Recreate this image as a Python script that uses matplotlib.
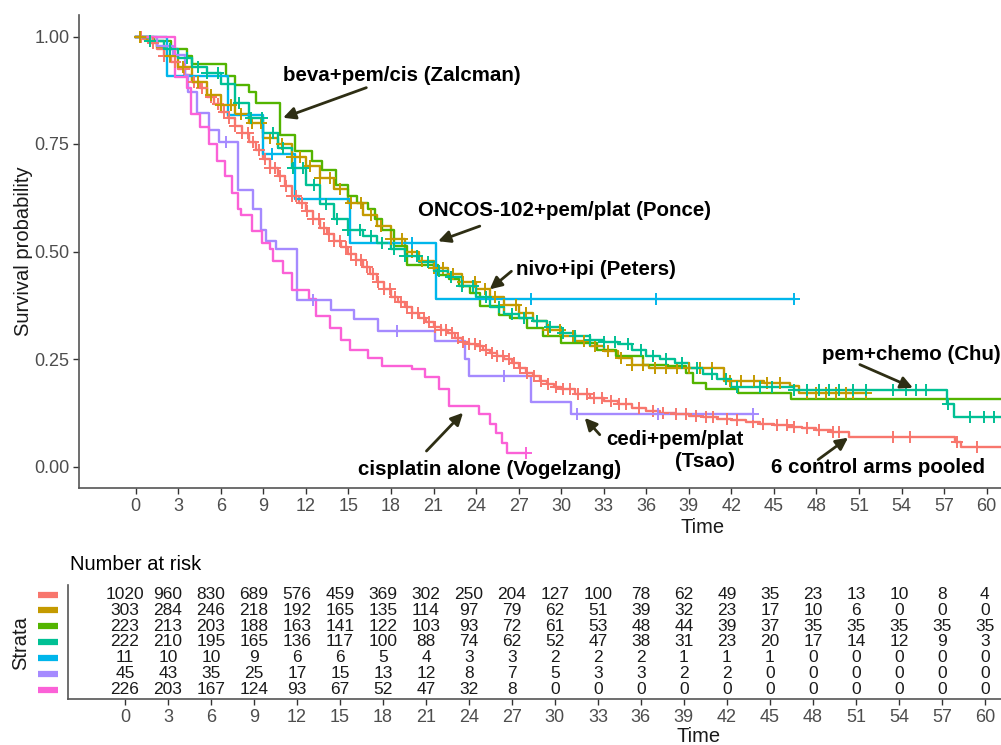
import numpy as np
import matplotlib
matplotlib.use('Agg')
import matplotlib.pyplot as plt
from matplotlib.transforms import blended_transform_factory

plt.rcParams['font.family'] = ['Liberation Sans', 'DejaVu Sans']

# ---------------- data ----------------
strata_colors = ['#F8766D', '#C49A00', '#53B400', '#00C094', '#00B6EB', '#A58AFF', '#FB61D7']

salmon_t = [0, 0.5, 1, 1.5, 2, 2.5, 3, 3.5, 4, 4.5, 5, 5.5, 6, 6.5, 7, 7.5, 8, 8.5, 9, 9.5,
            10, 10.5, 11, 11.5, 12, 12.5, 13, 13.5, 14, 14.5, 15, 15.5, 16, 16.5, 17, 17.5,
            18, 18.5, 19, 19.5, 20, 20.5, 21, 21.5, 22, 22.5, 23, 23.5, 24, 24.5, 25, 25.5,
            26, 26.5, 27, 27.5, 28, 28.5, 29, 29.5, 30, 31, 32, 33, 34, 35, 36, 37, 38, 39,
            40, 41, 42, 43, 44, 45, 46, 47, 48, 49, 50.3, 57.8, 58.2]
salmon_s = [1.0, 0.995, 0.985, 0.97, 0.955, 0.94, 0.925, 0.91, 0.895, 0.88, 0.86, 0.843, 0.825,
            0.81, 0.793, 0.775, 0.755, 0.735, 0.715, 0.695, 0.675, 0.652, 0.63, 0.612, 0.595,
            0.575, 0.555, 0.54, 0.525, 0.51, 0.495, 0.48, 0.465, 0.448, 0.43, 0.412, 0.395,
            0.382, 0.37, 0.357, 0.345, 0.335, 0.325, 0.318, 0.31, 0.3, 0.29, 0.285, 0.28,
            0.272, 0.265, 0.258, 0.25, 0.24, 0.23, 0.218, 0.21, 0.2, 0.193, 0.186, 0.18,
            0.168, 0.16, 0.152, 0.145, 0.137, 0.13, 0.125, 0.121, 0.118, 0.115, 0.111, 0.108,
            0.104, 0.1, 0.097, 0.093, 0.089, 0.085, 0.081, 0.068, 0.057, 0.045]
salmon_end = 62
salmon_cens = [0.4, 1.2, 2.0, 2.8, 3.4, 4.1, 4.7, 5.3, 5.8, 6.2, 6.6, 7.0, 7.5, 7.9, 8.3, 8.7,
               9.1, 9.5, 9.8, 10.2, 10.6, 11.0, 11.3, 11.7, 12.1, 12.5, 12.9, 13.3, 13.6, 14.0,
               14.4, 14.8, 15.2, 15.5, 15.9, 16.3, 16.7, 17.1, 17.5, 17.9, 18.3, 18.7, 19.1,
               19.5, 19.9, 20.3, 20.7, 21.1, 21.5, 21.9, 22.3, 22.7, 23.1, 23.5, 23.9, 24.3,
               24.7, 25.1, 25.5, 25.9, 26.3, 26.7, 27.1, 27.6, 28.1, 28.6, 29.1, 29.6, 30.1,
               30.6, 31.2, 31.8, 32.3, 32.9, 33.5, 34.1, 34.6, 35.5, 36.5, 37.2, 38.1, 38.8,
               39.5, 40.2, 40.7, 41.7, 42.4, 43.5, 44.2, 45.2, 45.9, 46.4, 47.3, 48.2, 49.2,
               49.6, 53.4, 54.6, 57.9, 59.3]

gold_t = [0, 0.8, 1.5, 2.2, 3, 4, 5, 6, 7, 8, 9, 10, 11, 12, 13, 14, 15, 16, 17, 18, 19, 20,
          21, 22, 23, 24, 25, 26, 27, 28, 29, 30, 31, 32, 33, 34, 35, 36.2, 41.5, 44.3, 46.1, 46.8]
gold_s = [1.0, 0.99, 0.975, 0.955, 0.93, 0.895, 0.865, 0.84, 0.82, 0.8, 0.765, 0.75, 0.72, 0.7,
          0.672, 0.645, 0.612, 0.585, 0.56, 0.53, 0.5, 0.478, 0.462, 0.447, 0.43, 0.412, 0.395,
          0.375, 0.358, 0.338, 0.318, 0.303, 0.292, 0.28, 0.268, 0.252, 0.236, 0.228, 0.2,
          0.195, 0.187, 0.171]
gold_end = 51.5
gold_cens = [0.3, 1.0, 2.4, 3.3, 4.4, 5.3, 6.0, 6.7, 7.4, 8.2, 8.8, 9.5, 10.3, 11.0, 11.6, 12.3,
             13.0, 13.7, 14.4, 15.2, 15.9, 16.6, 17.3, 18.0, 18.8, 19.5, 20.2, 21.0, 21.7, 22.4,
             23.1, 23.9, 24.6, 25.3, 26.0, 26.8, 27.5, 28.3, 29.1, 29.9, 30.8, 31.6, 32.4, 33.3,
             34.2, 35.0, 35.8, 36.6, 37.4, 38.2, 39.0, 39.8, 40.6, 41.9, 42.7, 43.6, 44.5, 45.4,
             47.3, 48.0, 48.7, 49.4, 50.1, 50.6, 51.5]

green_t = [0, 1.3, 2.5, 3.6, 4.0, 6.4, 7.0, 8.0, 8.5, 10.2, 11.2, 12.4, 13.1, 14.1, 15.0, 15.6,
           16.4, 16.9, 17.4, 18.2, 19.1, 21.3, 22.1, 22.8, 23.6, 24.3, 25.6, 26.4, 27.6, 28.7,
           30.0, 32.5, 33.9, 35.8, 37.5, 38.8, 39.3, 40.2, 42.5, 46.2]
green_s = [1.0, 0.99, 0.97, 0.954, 0.935, 0.907, 0.888, 0.87, 0.845, 0.77, 0.733, 0.71, 0.69,
           0.655, 0.63, 0.612, 0.598, 0.575, 0.55, 0.512, 0.468, 0.445, 0.435, 0.42, 0.403,
           0.373, 0.352, 0.345, 0.322, 0.303, 0.288, 0.272, 0.256, 0.237, 0.233, 0.218, 0.195,
           0.18, 0.172, 0.156]
green_end = 62
green_cens = []

teal_t = [0, 1, 2, 3, 4, 5, 6, 7, 8, 9, 10, 11, 12, 13, 14, 15, 16, 17, 18, 19, 20, 21, 22, 23,
          24, 25, 26, 27, 28, 29, 30, 31, 32, 33, 34, 35, 36, 37, 38, 39, 40, 41, 42, 46.4,
          57.2, 57.7]
teal_s = [1.0, 0.99, 0.97, 0.95, 0.93, 0.915, 0.89, 0.845, 0.81, 0.775, 0.74, 0.695, 0.655,
          0.61, 0.575, 0.55, 0.535, 0.52, 0.505, 0.49, 0.475, 0.455, 0.44, 0.42, 0.395, 0.37,
          0.355, 0.345, 0.338, 0.325, 0.31, 0.303, 0.295, 0.29, 0.285, 0.27, 0.258, 0.25, 0.24,
          0.228, 0.215, 0.203, 0.185, 0.178, 0.145, 0.115]
teal_end = 62
teal_cens = [1.0, 2.4, 3.6, 4.4, 5.0, 5.8, 6.5, 7.3, 8.1, 8.9, 9.7, 10.4, 11.1, 11.8, 12.6, 13.4,
             14.2, 15.0, 15.8, 16.6, 17.4, 18.2, 19.0, 19.8, 20.6, 21.4, 22.2, 23.0, 23.8, 24.7,
             25.6, 26.5, 27.4, 28.3, 29.2, 30.1, 31.0, 32.0, 33.0, 33.8, 34.7, 35.6, 36.5, 37.4,
             38.5, 39.6, 40.6, 41.6, 42.4, 44.0, 44.9, 46.4, 47.3, 48.2, 48.9, 49.6, 50.6, 51.5,
             53.4, 54.3, 55.0, 55.7, 57.3, 58.8, 59.8, 60.5]

cyan_t = [0, 2.2, 6.5, 9.0, 11.2, 15.1, 21.2]
cyan_s = [1.0, 0.909, 0.818, 0.727, 0.623, 0.519, 0.389]
cyan_end = 46.4
cyan_cens = [9.6, 19.5, 27.9, 36.7, 46.4]

purple_t = [0, 1.5, 2.6, 3.5, 3.7, 4.3, 5.2, 5.9, 7.2, 8.3, 8.8, 9.2, 9.9, 11.4, 13.8, 15.4,
            17.1, 21.1, 23.2, 23.5, 27.9, 30.7]
purple_s = [1.0, 0.978, 0.956, 0.91, 0.87, 0.823, 0.783, 0.755, 0.644, 0.598, 0.551, 0.524,
            0.505, 0.388, 0.365, 0.342, 0.315, 0.292, 0.25, 0.21, 0.15, 0.121]
purple_end = 43.5
purple_cens = [6.4, 12.5, 18.4, 26.0, 31.1, 36.8, 43.5]

pink_t = [0, 2.8, 3.6, 3.9, 4.5, 5.2, 5.7, 6.3, 6.8, 7.2, 7.4, 8.2, 8.9, 9.5, 9.7, 10.4, 11.0,
          12.2, 12.7, 13.7, 14.5, 15.1, 16.4, 17.4, 19.5, 20.4, 21.4, 22.1, 24.2, 25.0, 25.4,
          25.8, 26.2]
pink_s = [1.0, 0.905, 0.88, 0.82, 0.79, 0.75, 0.71, 0.675, 0.635, 0.60, 0.586, 0.547, 0.52,
          0.505, 0.477, 0.45, 0.41, 0.39, 0.35, 0.321, 0.295, 0.272, 0.253, 0.233, 0.226, 0.208,
          0.181, 0.14, 0.121, 0.098, 0.078, 0.055, 0.032]
pink_end = 27.5
pink_cens = [27.5]

risk_times = [0, 3, 6, 9, 12, 15, 18, 21, 24, 27, 30, 33, 36, 39, 42, 45, 48, 51, 54, 57, 60]
risk_salmon = [1020, 960, 830, 689, 576, 459, 369, 302, 250, 204, 127, 100, 78, 62, 49, 35, 23, 13, 10, 8, 4]
risk_gold = [303, 284, 246, 218, 192, 165, 135, 114, 97, 79, 62, 51, 39, 32, 23, 17, 10, 6, 0, 0, 0]
risk_green = [223, 213, 203, 188, 163, 141, 122, 103, 93, 72, 61, 53, 48, 44, 39, 37, 35, 35, 35, 35, 35]
risk_teal = [222, 210, 195, 165, 136, 117, 100, 88, 74, 62, 52, 47, 38, 31, 23, 20, 17, 14, 12, 9, 3]
risk_cyan = [11, 10, 10, 9, 6, 6, 5, 4, 3, 3, 2, 2, 2, 1, 1, 1, 0, 0, 0, 0, 0]
risk_purple = [45, 43, 35, 25, 17, 15, 13, 12, 8, 7, 5, 3, 3, 2, 2, 0, 0, 0, 0, 0, 0]
risk_pink = [226, 203, 167, 124, 93, 67, 52, 47, 32, 8, 0, 0, 0, 0, 0, 0, 0, 0, 0, 0, 0]

y_ticks = [0.0, 0.25, 0.5, 0.75, 1.0]
y_ticklabels = ['0.00', '0.25', '0.50', '0.75', '1.00']

curves = [
    (salmon_t, salmon_s, salmon_end, salmon_cens),
    (gold_t, gold_s, gold_end, gold_cens),
    (green_t, green_s, green_end, green_cens),
    (teal_t, teal_s, teal_end, teal_cens),
    (cyan_t, cyan_s, cyan_end, cyan_cens),
    (purple_t, purple_s, purple_end, purple_cens),
    (pink_t, pink_s, pink_end, pink_cens),
]
risk_rows = [risk_salmon, risk_gold, risk_green, risk_teal, risk_cyan, risk_purple, risk_pink]

# ---------------- layout ----------------
W, H = 1001, 745
fig = plt.figure(figsize=(W / 100, H / 100), dpi=100)
fig.patch.set_facecolor('white')

axis_col = '#555555'
tick_lab_col = '#4D4D4D'
ann_col = '#2E2E14'

ax = fig.add_axes([79 / W, 1 - 488 / H, 1248 / W, 473 / H])
ax.set_xlim(-4, 84)
ax.set_ylim(-0.05, 1.05)

for (t, s, end, cens), col in zip(curves, strata_colors):
    tt = list(t) + [end]
    ss = list(s) + [s[-1]]
    ax.step(tt, ss, where='post', color=col, lw=1.7, zorder=2)
for (t, s, end, cens), col in zip(curves, strata_colors):
    if len(cens):
        idx = np.searchsorted(np.array(t), np.array(cens), side='right') - 1
        cy = np.array(s)[idx]
        ax.plot(cens, cy, linestyle='none', marker='+', ms=8, mew=1.4, color=col, zorder=3)

for side in ['top', 'right']:
    ax.spines[side].set_visible(False)
for side in ['left', 'bottom']:
    ax.spines[side].set_color(axis_col)
    ax.spines[side].set_linewidth(1.2)
ax.set_xticks(risk_times)
ax.set_xticklabels([str(v) for v in risk_times])
ax.set_yticks(y_ticks)
ax.set_yticklabels(y_ticklabels)
ax.tick_params(length=4, width=1, color='#333333', labelsize=13, labelcolor=tick_lab_col, pad=3)
ax.set_xlabel('Time', fontsize=14.5, color='#1A1A1A')
ax.xaxis.set_label_coords(0.5, -0.064)
ax.set_ylabel('Survival probability', fontsize=14.5, color='#1A1A1A')
ax.yaxis.set_label_coords(-0.037, 0.5)

# annotations (label positions / arrow tails and heads in data coordinates)
ann_font = dict(fontsize=14.8, fontweight='bold', color='black', va='center', ha='left')
labels = [
    ('beva+pem/cis (Zalcman)', (10.37, 0.909), (16.26, 0.881), (10.39, 0.811)),
    ('ONCOS-102+pem/plat (Ponce)', (19.9, 0.596), (24.26, 0.559), (21.32, 0.524)),
    ('nivo+ipi (Peters)', (26.84, 0.458), (26.49, 0.454), (24.96, 0.412)),
    ('pem+chemo (Chu)', (48.36, 0.26), (51.06, 0.237), (54.8, 0.183)),
    ('cedi+pem/plat', (33.19, 0.063), (32.72, 0.074), (31.66, 0.113)),
    ('(Tsao)', (38.0, 0.012), None, None),
    ('6 control arms pooled', (44.83, -0.003), (48.12, 0.016), (50.23, 0.067)),
    ('cisplatin alone (Vogelzang)', (15.68, -0.007), (20.5, 0.036), (23.08, 0.125)),
]
for txt, pos, tail, head in labels:
    ax.text(pos[0], pos[1], txt, zorder=5, **ann_font)
    if tail is not None:
        ax.annotate('', xy=head, xytext=tail,
                    arrowprops=dict(arrowstyle='-|>', color=ann_col, lw=2.0,
                                    mutation_scale=18, shrinkA=0, shrinkB=0), zorder=5)

# ---------------- risk table ----------------
ax2 = fig.add_axes([67.7 / W, 1 - 699 / H, 1261 / W, 114 / H])
ax2.set_xlim(-4, 84)
ax2.set_ylim(0.4, 7.6)
for side in ['top', 'right']:
    ax2.spines[side].set_visible(False)
for side in ['left', 'bottom']:
    ax2.spines[side].set_color(axis_col)
    ax2.spines[side].set_linewidth(1.2)
ax2.set_yticks([])
ax2.set_xticks(risk_times)
ax2.set_xticklabels([str(v) for v in risk_times])
ax2.tick_params(axis='x', length=4, width=1, color='#333333', labelsize=13,
                labelcolor=tick_lab_col, pad=3)
ax2.set_xlabel('Time', fontsize=14.5, color='#1A1A1A')
ax2.xaxis.set_label_coords(0.5, -0.245)

n_rows = len(risk_rows)
trans = blended_transform_factory(fig.transFigure, ax2.transData)
for i, (row, col) in enumerate(zip(risk_rows, strata_colors)):
    yv = n_rows - i
    for t, n in zip(risk_times, row):
        ax2.text(t, yv, str(n), ha='center', va='center', fontsize=12.5, color='#1A1A1A')
    ax2.plot([38 / W, 58 / W], [yv, yv], transform=trans, color=col, lw=4.5,
             solid_capstyle='butt', clip_on=False)

fig.text(70 / W, 1 - 565 / H, 'Number at risk', fontsize=14.5, va='center', ha='left',
         color='black')
fig.text(21 / W, 1 - 643 / H, 'Strata', fontsize=14.5, va='center', ha='center',
         rotation=90, color='#1A1A1A')

fig.savefig('out.png', dpi=100)
